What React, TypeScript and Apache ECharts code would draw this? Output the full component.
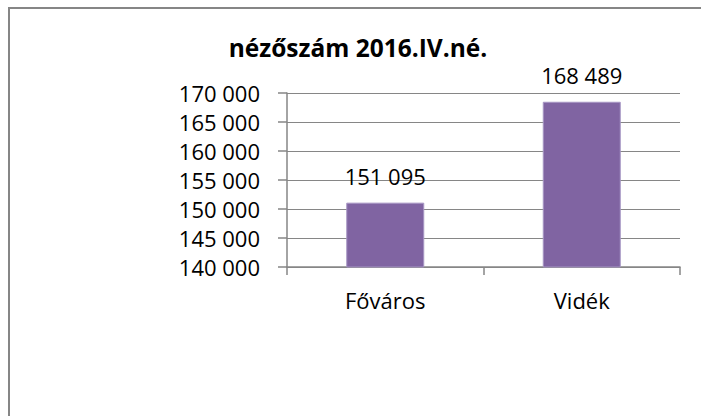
import React, { useEffect, useRef } from "react";
import * as echarts from "echarts";

const categories = ["Főváros", "Vidék"];
const values = [151095, 168489];
const titleText = "nézőszám 2016.IV.né.";
const yMin = 140000;
const yMax = 170000;
const yStep = 5000;

const fmt = (n: number) => String(n).replace(/\B(?=(\d{3})+(?!\d))/g, " ");

const FONT = "'Open Sans', sans-serif";
const GRAY = "#868686";

export default function App() {
  const ref = useRef<HTMLDivElement>(null);
  useEffect(() => {
    if (!ref.current) return;
    const chart = echarts.init(ref.current, null, { renderer: "svg" });
    chart.setOption({
      animation: false,
      backgroundColor: "#ffffff",
      textStyle: { fontFamily: FONT },
      graphic: [
        {
          type: "rect",
          shape: { x: 9, y: 8, width: 720, height: 440 },
          style: { fill: "none", stroke: GRAY, lineWidth: 2 },
          silent: true,
        },
        {
          type: "text",
          x: 358,
          y: 47,
          style: {
            text: titleText,
            fontFamily: FONT,
            fontSize: 24.5,
            fontWeight: "bold",
            fill: "#000",
            textAlign: "center",
            textVerticalAlign: "middle",
          },
        },
      ],
      grid: { left: 287, right: 21, top: 93, bottom: 149 },
      xAxis: {
        type: "category",
        data: categories,
        axisLine: { show: true, lineStyle: { color: GRAY, width: 1.5 } },
        axisTick: { show: true, length: 8, alignWithLabel: false, lineStyle: { color: GRAY, width: 1.5 } },
        axisLabel: { color: "#000", fontSize: 22, fontFamily: FONT, margin: 22 },
      },
      yAxis: {
        type: "value",
        min: yMin,
        max: yMax,
        interval: yStep,
        axisLine: { show: true, lineStyle: { color: GRAY, width: 1.5 } },
        axisTick: { show: true, length: 9, lineStyle: { color: GRAY, width: 1.5 } },
        splitLine: { show: true, lineStyle: { color: GRAY, width: 1.2 } },
        axisLabel: {
          color: "#000",
          fontSize: 22,
          fontFamily: FONT,
          margin: 27,
          formatter: (v: number) => fmt(v),
        },
      },
      series: [
        {
          type: "bar",
          data: values,
          barWidth: 78,
          itemStyle: { color: "#8064A2", borderColor: "#a796c4", borderWidth: 1 },
          label: {
            show: true,
            position: "top",
            distance: 16,
            color: "#000",
            fontSize: 22,
            lineHeight: 22,
            fontFamily: FONT,
            formatter: (p: any) => fmt(p.value),
          },
        },
      ],
    });
    return () => chart.dispose();
  }, []);
  return (
    <div
      ref={ref}
      style={{ position: "fixed", left: 0, top: 0, width: 701, height: 416 }}
    />
  );
}
